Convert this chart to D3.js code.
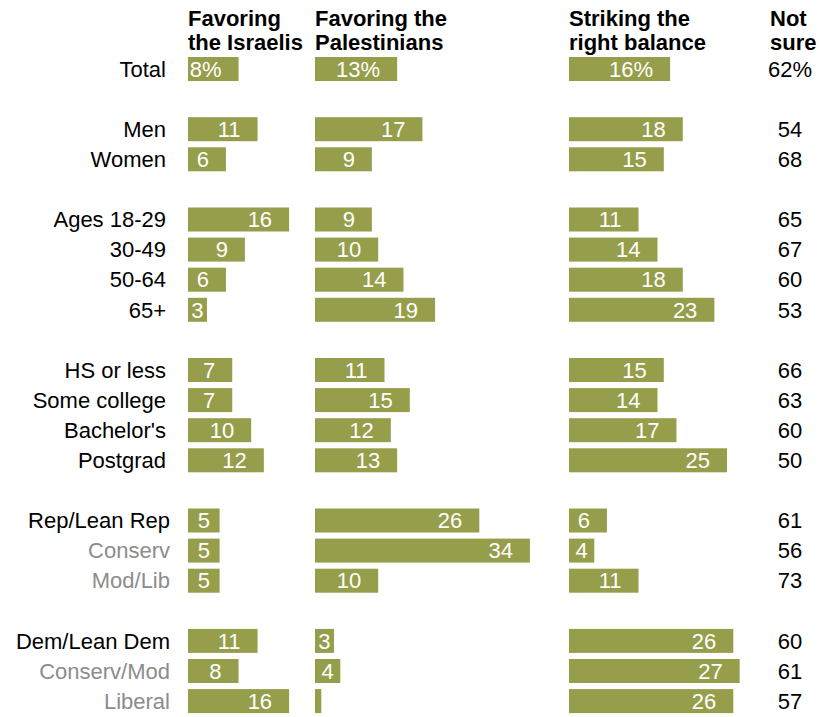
<!DOCTYPE html>
<html>
<head>
<meta charset="utf-8">
<script src="https://cdn.jsdelivr.net/npm/d3@7/dist/d3.min.js"></script>
<style>
  html, body { margin: 0; padding: 0; background: #fff; }
  svg { display: block; }
</style>
</head>
<body>
<svg id="chart" width="825" height="717"></svg>
<script>
// Survey rows, grouped by demographic block
const rowLabels = ["Total", "Men", "Women", "Ages 18-29", "30-49", "50-64", "65+",
  "HS or less", "Some college", "Bachelor's", "Postgrad",
  "Rep/Lean Rep", "Conserv", "Mod/Lib",
  "Dem/Lean Dem", "Conserv/Mod", "Liberal"];
const rowGroup = [0, 1, 1, 2, 2, 2, 2, 3, 3, 3, 3, 4, 4, 4, 5, 5, 5];
const rowIsSub = [false, false, false, false, false, false, false, false, false, false, false,
  false, true, true, false, true, true];

// Column headings
const seriesTitles = [
  ["Favoring", "the Israelis"],
  ["Favoring the", "Palestinians"],
  ["Striking the", "right balance"],
  ["Not", "sure"]
];

// Percent values per column
const favorIsraelis     = [8, 11, 6, 16, 9, 6, 3, 7, 7, 10, 12, 5, 5, 5, 11, 8, 16];
const favorPalestinians = [13, 17, 9, 9, 10, 14, 19, 11, 15, 12, 13, 26, 34, 10, 3, 4, 1];
const rightBalance      = [16, 18, 15, 11, 14, 18, 23, 15, 14, 17, 25, 6, 4, 11, 26, 27, 26];
const notSure           = [62, 54, 68, 65, 67, 60, 53, 66, 63, 60, 50, 61, 56, 73, 60, 61, 57];

const barSeries = [favorIsraelis, favorPalestinians, rightBalance];

const svg = d3.select("#chart");
const FONT = "'Liberation Sans', Arial, sans-serif";
const BAR = "#969e4b";
const TXT = 22;

// Vertical slot: each group is separated by one empty slot
const slot = (i) => i + rowGroup[i];
const y = d3.scaleLinear().domain([0, 21]).range([57, 57 + 21 * 30.1]);
const barH = 24;

// Shared horizontal length scale for all bar columns
const len = d3.scaleLinear().domain([0, 100]).range([0, 632]);
const colStart = [188, 315, 569];
const notSureX = 790;

// Headings
const headX = [188, 315, 569, 770];
seriesTitles.forEach((lines, c) => {
  const t = svg.append("text")
    .attr("x", headX[c]).attr("y", 26)
    .attr("font-family", FONT).attr("font-weight", 700)
    .attr("font-size", 22).attr("fill", "#000");
  lines.forEach((ln, k) => {
    t.append("tspan").attr("x", headX[c]).attr("dy", k === 0 ? 0 : 24).text(ln);
  });
});

const rowsIdx = d3.range(rowLabels.length);

// Row labels
svg.append("g").selectAll("text").data(rowsIdx).join("text")
  .attr("x", i => rowGroup[i] >= 4 ? 170 : 166)
  .attr("y", i => y(slot(i)) + barH / 2)
  .attr("dy", "0.35em")
  .attr("text-anchor", "end")
  .attr("font-family", FONT).attr("font-size", TXT)
  .attr("fill", i => rowIsSub[i] ? "#8c8c8c" : "#000")
  .text(i => rowLabels[i]);

// Bars and in-bar value labels
barSeries.forEach((vals, c) => {
  const g = svg.append("g");
  g.selectAll("rect").data(rowsIdx).join("rect")
    .attr("x", colStart[c])
    .attr("y", i => y(slot(i)))
    .attr("width", i => len(vals[i]))
    .attr("height", barH)
    .attr("fill", BAR);

  g.selectAll("text").data(rowsIdx).join("text")
    .attr("y", i => y(slot(i)) + barH / 2)
    .attr("dy", "0.35em")
    .attr("font-family", FONT).attr("font-size", TXT)
    .attr("fill", "#fff")
    .text(i => vals[i] + (i === 0 ? "%" : ""))
    .each(function (i) {
      const w = this.getComputedTextLength();
      const x0 = colStart[c];
      const x1 = x0 + len(vals[i]);
      const sel = d3.select(this);
      if (w + 2 > x1 - x0) {
        sel.remove();                       // too narrow for a label
      } else if (x1 - x0 >= 35) {
        sel.attr("x", x1 - 17).attr("text-anchor", "end");
      } else {
        sel.attr("x", (x0 + x1) / 2).attr("text-anchor", "middle");
      }
    });
});

// Not sure column
svg.append("g").selectAll("text").data(rowsIdx).join("text")
  .attr("x", notSureX)
  .attr("y", i => y(slot(i)) + barH / 2)
  .attr("dy", "0.35em")
  .attr("text-anchor", "middle")
  .attr("font-family", FONT).attr("font-size", TXT)
  .attr("fill", "#000")
  .text(i => notSure[i] + (i === 0 ? "%" : ""));
</script>
</body>
</html>
